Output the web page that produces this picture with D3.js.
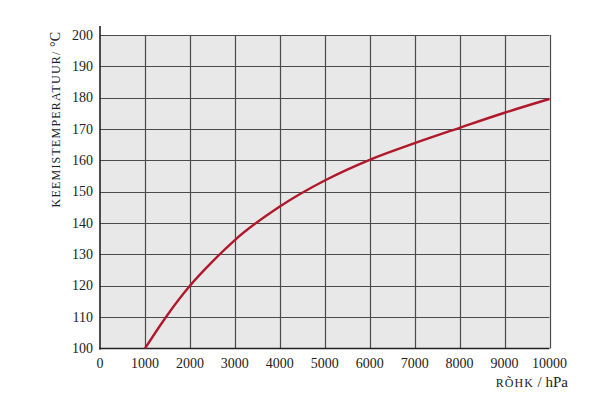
<!DOCTYPE html>
<html><head><meta charset="utf-8">
<script src="https://cdn.jsdelivr.net/npm/d3@7"></script>
<style>
body{margin:0;background:#fff;}
text{font-family:"Liberation Serif","DejaVu Serif",serif;fill:#222;}
</style></head>
<body><svg id="c" width="600" height="405"></svg>
<script>
const pressure = [1000,1500,2000,2500,3000,4000,5000,6000,7000,8000,9000,10000];
const temperature = [100,110.7,120,127.7,134.6,145.3,153.6,160.2,165.5,170.4,175.2,179.6];
const xTicks = [0,1000,2000,3000,4000,5000,6000,7000,8000,9000,10000];
const yTicks = [100,110,120,130,140,150,160,170,180,190,200];
const xLabelCaps = "rõhk";
const xLabelRest = " / hPa";
const yLabelCaps = "keemistemperatuur/";
const yLabelRest = " °C";

const svg = d3.select("#c");
const x = d3.scaleLinear().domain([0,10000]).range([100,549.5]);
const y = d3.scaleLinear().domain([100,200]).range([348.5,35]);

svg.append("rect").attr("x",x(0)).attr("y",y(200)).attr("width",x(10000)-x(0)).attr("height",y(100)-y(200)).attr("fill","#e8e8e8");

const g = svg.append("g");
g.selectAll(".vx").data(xTicks.slice(1)).join("line")
  .attr("x1",d=>Math.round(x(d))+0.5).attr("x2",d=>Math.round(x(d))+0.5)
  .attr("y1",y(200)).attr("y2",y(100)).attr("stroke","#4a4a4a").attr("stroke-width",1.2);
g.selectAll(".hy").data(yTicks.slice(1)).join("line")
  .attr("y1",d=>Math.round(y(d))+0.5).attr("y2",d=>Math.round(y(d))+0.5)
  .attr("x1",x(0)).attr("x2",x(10000)).attr("stroke","#4a4a4a").attr("stroke-width",1.2);

svg.append("line").attr("x1",x(0)).attr("x2",x(0)).attr("y1",y(200)-9).attr("y2",y(100)+1).attr("stroke","#222").attr("stroke-width",1.6);
svg.append("line").attr("x1",x(0)-1).attr("x2",x(10000)).attr("y1",y(100)).attr("y2",y(100)).attr("stroke","#222").attr("stroke-width",1.6);

svg.selectAll(".yt").data(yTicks).join("text")
  .attr("x",93).attr("y",d=>y(d)+4.5).attr("text-anchor","end")
  .attr("font-size",14).text(d=>d);
svg.selectAll(".xt").data(xTicks).join("text")
  .attr("x",d=>x(d)).attr("y",368).attr("text-anchor","middle")
  .attr("font-size",14).text(d=>d);

const xl = svg.append("text").attr("x",568).attr("y",387).attr("text-anchor","end").attr("font-size",15);
xl.append("tspan").attr("font-size",12).attr("letter-spacing",1).text(xLabelCaps.toUpperCase());
xl.append("tspan").text(xLabelRest);

const yl = svg.append("text").attr("transform","translate(60,32) rotate(-90)")
  .attr("text-anchor","end").attr("font-size",14);
yl.append("tspan").attr("font-size",12).attr("letter-spacing",1.2).text(yLabelCaps.toUpperCase());
yl.append("tspan").text(yLabelRest);

const line = d3.line().x((d,i)=>x(pressure[i])).y(d=>y(d)).curve(d3.curveMonotoneX);
svg.append("path").datum(temperature).attr("d",line).attr("fill","none")
  .attr("stroke","#b0182b").attr("stroke-width",2.4);
</script></body></html>
